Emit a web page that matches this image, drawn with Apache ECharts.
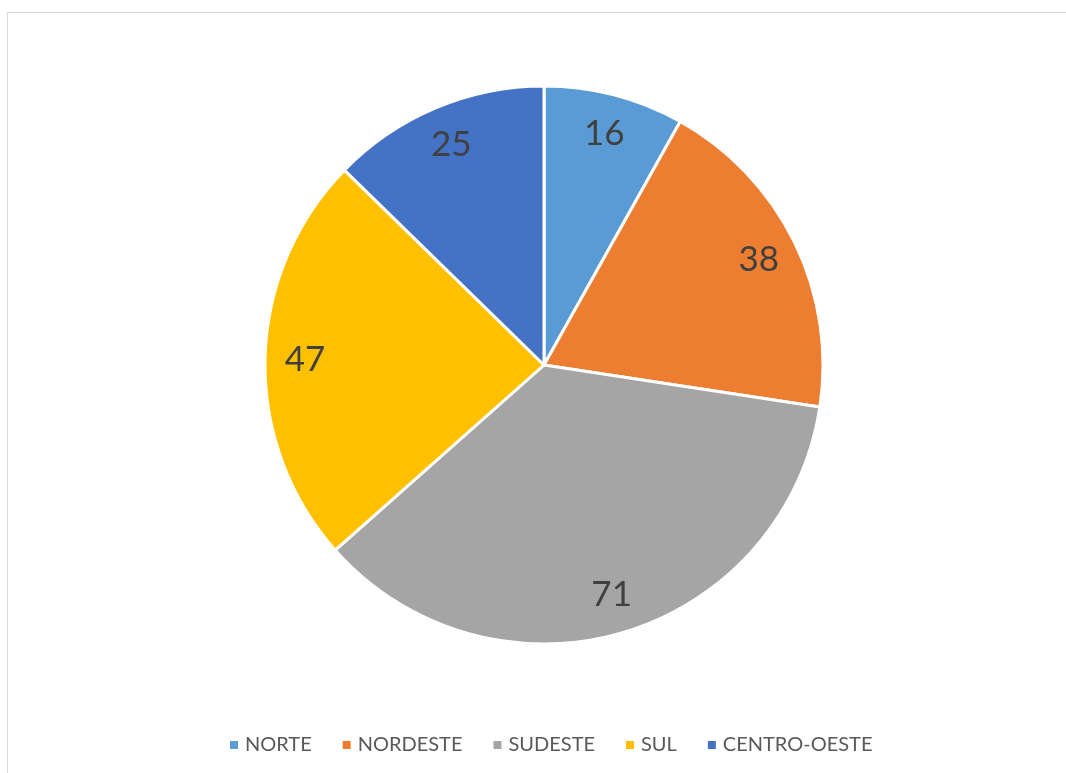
<!DOCTYPE html>
<html>
<head>
<meta charset="utf-8">
<script src="https://cdn.jsdelivr.net/npm/echarts@6/dist/echarts.min.js"></script>
<style>
html,body{margin:0;padding:0;background:#fff;}
#frame{position:absolute;left:7px;top:12px;width:1080px;height:800px;border:1.5px solid #d9d9d9;box-sizing:border-box;}
#chart{position:absolute;left:0;top:0;width:1066px;height:773px;}
</style>
</head>
<body>
<div id="frame"></div>
<div id="chart"></div>
<script>
const categories = ['NORTE', 'NORDESTE', 'SUDESTE', 'SUL', 'CENTRO-OESTE'];
const values = [16, 38, 71, 47, 25];
const colors = ['#5B9BD5', '#ED7D31', '#A5A5A5', '#FFC000', '#4472C4'];

const data = categories.map((c, i) => ({ name: c, value: values[i] }));

const chart = echarts.init(document.getElementById('chart'), null, { renderer: 'canvas' });
chart.setOption({
  animation: false,
  color: colors,
  legend: {
    data: categories,
    left: 223,
    top: 730,
    itemWidth: 10,
    itemHeight: 10,
    itemGap: 29,
    icon: 'rect',
    textStyle: { color: '#595959', fontSize: 20, fontFamily: 'Lato', padding: [0, 0, 0, 1] }
  },
  series: [
    {
      type: 'pie',
      center: [544, 365],
      radius: [0, 279],
      startAngle: 90,
      clockwise: true,
      silent: true,
      itemStyle: { borderColor: '#fff', borderWidth: 3 },
      label: { show: false },
      labelLine: { show: false },
      data: data
    },
    {
      type: 'pie',
      center: [544, 365],
      radius: [193, 279],
      startAngle: 90,
      clockwise: true,
      silent: true,
      itemStyle: { color: 'rgba(0,0,0,0)', borderWidth: 0 },
      label: {
        show: true,
        position: 'inside',
        formatter: '{c}',
        color: '#404040',
        fontSize: 35,
        fontFamily: 'Lato'
      },
      labelLine: { show: false },
      emphasis: { disabled: true },
      data: data
    }
  ]
});
</script>
</body>
</html>
